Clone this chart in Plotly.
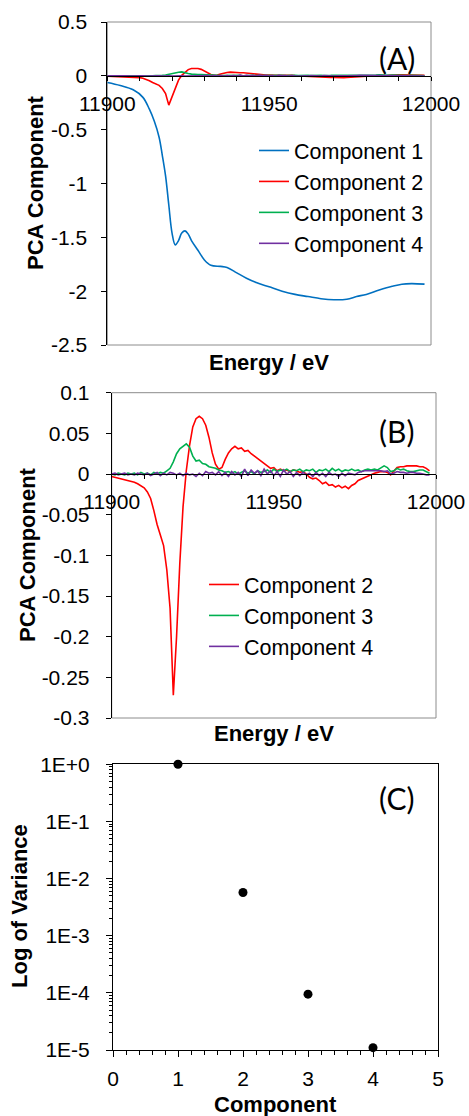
import plotly.graph_objects as go

# ---------------- data ----------------
energy_c1 = [11900, 11904, 11908, 11911, 11913, 11914.5, 11916, 11917, 11918, 11919,
             11920, 11921, 11922, 11923, 11924, 11925, 11926, 11928, 11930, 11932,
             11935, 11937, 11940, 11943, 11946, 11950, 11954, 11958, 11962, 11966,
             11970, 11974, 11977, 11980, 11984, 11988, 11991, 11994, 11998]
component1 = [-0.062, -0.09, -0.13, -0.20, -0.31, -0.42, -0.57, -0.74, -0.93, -1.20,
              -1.46, -1.57, -1.53, -1.46, -1.44, -1.47, -1.53, -1.62, -1.71, -1.76,
              -1.77, -1.78, -1.83, -1.88, -1.92, -1.96, -2.00, -2.03, -2.05, -2.07,
              -2.08, -2.075, -2.05, -2.03, -1.99, -1.955, -1.935, -1.93, -1.935]

energy = [11900, 11901, 11902, 11903, 11904, 11905, 11906, 11907, 11908, 11909,
          11910, 11911, 11912, 11913, 11914, 11915, 11916, 11917, 11918, 11919,
          11920, 11921, 11922, 11923, 11924, 11925, 11926, 11927, 11928, 11929,
          11930, 11931, 11932, 11933, 11934, 11935, 11936, 11937, 11938, 11939,
          11940, 11941, 11942, 11943, 11944, 11945, 11946, 11947, 11948, 11949,
          11950, 11951, 11952, 11953, 11954, 11955, 11956, 11957, 11958, 11959,
          11960, 11961, 11962, 11963, 11964, 11965, 11966, 11967, 11968, 11969,
          11970, 11971, 11972, 11973, 11974, 11975, 11976, 11977, 11978, 11979,
          11980, 11981, 11982, 11983, 11984, 11985, 11986, 11987, 11988, 11989,
          11990, 11991, 11992, 11993, 11994, 11995, 11996, 11997, 11998]

component2 = [-0.003, -0.004, -0.005, -0.006, -0.007, -0.008, -0.009, -0.010, -0.012, -0.014,
              -0.017, -0.022, -0.030, -0.045, -0.062, -0.075, -0.088, -0.118, -0.165, -0.272,
              -0.200, -0.110, -0.040, 0.004, 0.035, 0.058, 0.068, 0.071, 0.068, 0.060,
              0.045, 0.026, 0.012, 0.006, 0.008, 0.018, 0.026, 0.031, 0.034, 0.031,
              0.032, 0.028, 0.029, 0.025, 0.022, 0.020, 0.016, 0.014, 0.010, 0.007,
              0.008, 0.004, 0.006, 0.004, 0.005, 0.003, 0.005, 0.004, 0.002, 0.003,
              0.000, -0.004, -0.006, -0.005, -0.008, -0.012, -0.010, -0.014, -0.013, -0.016,
              -0.014, -0.017, -0.015, -0.018, -0.014, -0.012, -0.008, -0.006, -0.004, -0.002,
              0.000, 0.001, 0.002, 0.003, 0.003, 0.002, -0.001, 0.004, 0.008, 0.009,
              0.009, 0.010, 0.010, 0.010, 0.010, 0.009, 0.009, 0.007, 0.004]

component3 = [0.000, -0.001, 0.001, 0.000, -0.001, 0.001, 0.000, 0.001, -0.001, 0.002,
              0.000, 0.001, -0.001, 0.002, 0.000, 0.002, 0.001, 0.004, 0.007, 0.015,
              0.025, 0.031, 0.034, 0.037, 0.033, 0.022, 0.016, 0.017, 0.013, 0.012,
              0.009, 0.008, 0.007, 0.005, 0.004, 0.002, 0.003, 0.001, 0.003, 0.000,
              0.002, 0.004, 0.001, 0.003, 0.000, 0.004, 0.002, 0.003, 0.005, 0.002,
              0.006, 0.003, 0.005, 0.004, 0.006, 0.003, 0.005, 0.004, 0.006, 0.003,
              0.005, 0.004, 0.006, 0.002, 0.005, 0.004, 0.006, 0.003, 0.007, 0.004,
              0.006, 0.003, 0.005, 0.004, 0.006, 0.004, 0.005, 0.003, 0.005, 0.006,
              0.005, 0.006, 0.005, 0.007, 0.010, 0.008, 0.003, 0.004, 0.007, 0.005,
              0.006, 0.004, 0.003, 0.003, 0.004, 0.005, 0.005, 0.003, 0.001]

component4 = [0.000, 0.001, -0.001, 0.000, 0.001, -0.001, 0.000, -0.001, 0.001, 0.000,
              -0.001, 0.001, -0.002, 0.000, 0.002, -0.002, 0.001, -0.001, 0.002, 0.001,
              -0.001, 0.001, -0.002, 0.001, -0.001, 0.000, -0.003, 0.001, -0.002, 0.003,
              0.001, 0.002, -0.001, 0.003, -0.002, 0.002, -0.003, 0.003, -0.001, 0.002,
              -0.003, 0.006, -0.002, 0.005, 0.001, 0.004, -0.002, 0.006, 0.000, 0.004,
              -0.002, 0.003, -0.003, 0.005, 0.000, 0.003, -0.003, 0.002, -0.002, 0.002,
              -0.001, 0.001, -0.003, 0.002, -0.002, 0.001, -0.003, 0.002, -0.001, 0.000,
              -0.003, 0.001, -0.002, 0.001, 0.000, -0.001, 0.002, 0.003, 0.004, 0.004,
              0.004, 0.004, 0.004, 0.004, 0.003, 0.004, 0.000, 0.001, 0.003, 0.002,
              0.002, 0.001, 0.002, 0.002, 0.001, 0.001, 0.000, -0.001, -0.001]

components_c = [1, 2, 3, 4]
variance_c = [1.0, 5.7e-3, 9.5e-5, 1.1e-5]

ticks_x = [11900, 11950, 12000]
ticktext_x = ["11900", "11950", "12000"]
ticks_a = [0.5, 0, -0.5, -1, -1.5, -2, -2.5]
ticktext_a = ["0.5", "0", "-0.5", "-1", "-1.5", "-2", "-2.5"]
ticks_b = [0.1, 0.05, 0, -0.05, -0.1, -0.15, -0.2, -0.25, -0.3]
ticktext_b = ["0.1", "0.05", "0", "-0.05", "-0.1", "-0.15", "-0.2", "-0.25", "-0.3"]
ticks_c = [1, 1e-1, 1e-2, 1e-3, 1e-4, 1e-5]
ticktext_c = ["1E+0", "1E-1", "1E-2", "1E-3", "1E-4", "1E-5"]

names = ["Component 1", "Component 2", "Component 3", "Component 4"]
colors = ["#0070C0", "#FF0000", "#00B050", "#7030A0"]

# ---------------- layout geometry (pixels) ----------------
W, H = 469, 1116
FONT = "Liberation Sans, Arial, sans-serif"
LBL = "Lato, Carlito, Calibri, sans-serif"


def px(x):
    return x / W


def py(y):
    return 1 - y / H


A_x = [107.3, 431.0]; A_y = [22.0, 345.0]; A_range = [-2.5, 0.5]
B_x = [111.7, 436.0]; B_y = [392.7, 718.0]; B_range = [-0.3, 0.1]
C_x = [113.0, 438.0]; C_y = [764.3, 1050.0]

fig = go.Figure()

# Panel A
series_a = [component1, component2, component3, component4]
for i, vals in enumerate(series_a):
    xs = energy_c1 if i == 0 else energy
    fig.add_trace(go.Scatter(x=xs, y=vals, mode="lines", name=names[i],
                             line=dict(color=colors[i], width=1.6,
                                       shape="spline" if i == 0 else "linear"),
                             xaxis="x", yaxis="y", legend="legend"))
# Panel B
for i, vals in [(1, component2), (2, component3), (3, component4)]:
    fig.add_trace(go.Scatter(x=energy, y=vals, mode="lines", name=names[i],
                             line=dict(color=colors[i], width=1.6),
                             xaxis="x2", yaxis="y2", legend="legend2"))
# Panel C
fig.add_trace(go.Scatter(x=components_c, y=variance_c, mode="markers",
                         marker=dict(color="black", size=9), showlegend=False,
                         cliponaxis=False, xaxis="x3", yaxis="y3"))


def zero_pos(rng, dom):
    # paper position of the value 0 on a vertical axis
    y0, y1 = py(dom[1]), py(dom[0])
    return y0 + (0 - rng[0]) / (rng[1] - rng[0]) * (y1 - y0)


tickfont = dict(family=FONT, size=21, color="black")
legfont = dict(family=FONT, size=21.5, color="black")

xaxis_common = dict(range=[11900, 12000], tickvals=ticks_x, ticktext=ticktext_x,
                    ticks="outside", ticklen=4, tickwidth=1, tickcolor="black",
                    minor=dict(ticks="outside", dtick=10, tick0=11900, ticklen=4,
                               tickcolor="black", showgrid=False),
                    showline=True, linecolor="black", linewidth=1,
                    showgrid=False, zeroline=False, tickfont=tickfont,
                    ticklabelstandoff=5, anchor="free", automargin=False)

fig.update_layout(
    width=W, height=H, margin=dict(l=0, r=0, t=0, b=0, autoexpand=False),
    paper_bgcolor="white", plot_bgcolor="white",
    font=dict(family=FONT, color="black"),
    xaxis=dict(domain=[px(A_x[0]), px(A_x[1])], position=zero_pos(A_range, A_y),
               **xaxis_common),
    yaxis=dict(domain=[py(A_y[1]), py(A_y[0])], range=A_range, tickvals=ticks_a,
               ticktext=ticktext_a, ticks="outside", ticklen=5, tickcolor="black",
               showline=True, linecolor="black", showgrid=False, zeroline=False,
               tickfont=tickfont, ticklabelstandoff=10, anchor="x", automargin=False),
    xaxis2=dict(domain=[px(B_x[0]), px(B_x[1])], position=zero_pos(B_range, B_y),
                **xaxis_common),
    yaxis2=dict(domain=[py(B_y[1]), py(B_y[0])], range=B_range, tickvals=ticks_b,
                ticktext=ticktext_b, ticks="outside", ticklen=5, tickcolor="black",
                showline=True, linecolor="black", showgrid=False, zeroline=False,
                tickfont=tickfont, ticklabelstandoff=12, anchor="x2", automargin=False),
    xaxis3=dict(domain=[px(C_x[0]), px(C_x[1])], range=[0, 5], dtick=1, tick0=0,
                ticks="outside", ticklen=6, tickcolor="black",
                minor=dict(ticks="outside", dtick=0.2, tick0=0, ticklen=4,
                           tickcolor="black", showgrid=False),
                showline=True, linecolor="black", mirror=True, showgrid=False,
                zeroline=False, tickfont=tickfont, ticklabelstandoff=4, anchor="y3",
                automargin=False),
    yaxis3=dict(domain=[py(C_y[1]), py(C_y[0])], type="log", range=[-5, 0],
                tickvals=ticks_c, ticktext=ticktext_c, ticks="outside", ticklen=6,
                tickcolor="black",
                minor=dict(ticks="outside", ticklen=3, tickcolor="black",
                           tickvals=[m * 10 ** e for e in range(-5, 0) for m in range(2, 10)],
                           showgrid=False),
                showline=True, linecolor="black", mirror=True, showgrid=False,
                zeroline=False, tickfont=tickfont, ticklabelstandoff=12, anchor="x3",
                automargin=False),
    legend=dict(x=px(254), y=py(130), xanchor="left", yanchor="top",
                bgcolor="rgba(0,0,0,0)", font=legfont, itemwidth=30, tracegroupgap=0),
    legend2=dict(x=px(204), y=py(564), xanchor="left", yanchor="top",
                 bgcolor="rgba(0,0,0,0)", font=legfont, itemwidth=30, tracegroupgap=0),
)

# plot-area frames (panels A and B grey, C handled by mirror)
for xr, yr in [("x domain", "y domain"), ("x2 domain", "y2 domain")]:
    fig.add_shape(type="rect", xref=xr, yref=yr, x0=0, x1=1, y0=0, y1=1,
                  line=dict(color="#8c8c8c", width=1), layer="below")

title_font = dict(family=FONT, size=22, color="black")
anns = [
    ("Energy / eV", 269, 362, 0), ("Energy / eV", 273.5, 733, 0), ("Component", 275.5, 1104, 0),
    ("PCA Component", 36, 183, -90), ("PCA Component", 27, 555, -90),
    ("Log of Variance", 20, 906, -90),
]
for text, x, y, ang in anns:
    fig.add_annotation(text="<b>%s</b>" % text, x=px(x), y=py(y), xref="paper", yref="paper",
                       xanchor="center", yanchor="middle", showarrow=False,
                       textangle=ang, font=title_font)
for text, x, y in [("(A)", 396.7, 57.5), ("(B)", 396, 430.5), ("(C)", 396, 798)]:
    fig.add_annotation(text=text, x=px(x), y=py(y), xref="paper", yref="paper",
                       xanchor="center", yanchor="middle", showarrow=False,
                       font=dict(family=LBL, size=30, color="black"))

fig.write_html("out.html")
